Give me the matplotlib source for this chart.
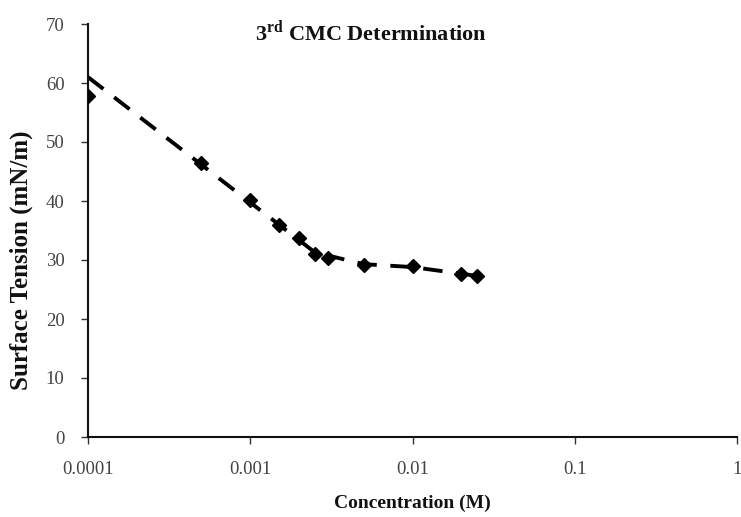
import matplotlib
matplotlib.use("Agg")
import matplotlib.pyplot as plt
from matplotlib.ticker import FixedLocator, FixedFormatter, NullLocator

plt.rcParams['font.family'] = ['Liberation Serif', 'DejaVu Serif']
plt.rcParams['mathtext.fontset'] = 'custom'
plt.rcParams['mathtext.rm'] = 'Liberation Serif'
plt.rcParams['mathtext.bf'] = 'Liberation Serif:bold'

# Data
conc = [0.0001, 0.0005, 0.001, 0.0015, 0.002, 0.0025, 0.003, 0.005, 0.01, 0.02, 0.025]
tension = [57.8, 46.4, 40.2, 35.9, 33.7, 31.0, 30.4, 29.1, 28.9, 27.7, 27.3]

# Dashed trend line
trend_x = [0.0001, 0.0025, 0.005, 0.01, 0.025]
trend_y = [61.0, 31.3, 29.3, 28.8, 27.3]

xticks = [0.0001, 0.001, 0.01, 0.1, 1]
xtick_labels = ["0.0001", "0.001", "0.01", "0.1", "1"]
yticks = [0, 10, 20, 30, 40, 50, 60, 70]

fig = plt.figure(figsize=(7.41, 5.17), dpi=100)
ax = fig.add_axes([88/741, 80/517, (737-88)/741, (437-24)/517])

ax.plot(trend_x, trend_y, color='black', linestyle=(0, (5, 3.5)), linewidth=2.8, zorder=2)
ax.plot(conc, tension, linestyle='none', marker='D', markersize=7, color='black', zorder=3)

ax.set_xscale('log')
ax.set_xlim(0.0001, 1)
ax.set_ylim(0, 70)
ax.xaxis.set_major_locator(FixedLocator(xticks))
ax.xaxis.set_major_formatter(FixedFormatter(xtick_labels))
ax.xaxis.set_minor_locator(NullLocator())
ax.set_yticks(yticks)

for s in ['top', 'right']:
    ax.spines[s].set_visible(False)
for s in ['left', 'bottom']:
    ax.spines[s].set_linewidth(1.5)
    ax.spines[s].set_color('#111111')

ax.tick_params(axis='both', direction='out', length=5, width=1, colors='#333333',
               labelsize=13.5, labelcolor='#444444')
ax.tick_params(axis='x', pad=12)
ax.tick_params(axis='y', pad=12)

ax.set_xlabel('Concentration (M)', fontsize=14, fontweight='bold', labelpad=12, color='#111111')
ax.set_ylabel('Surface Tension (mN/m)', fontsize=18, fontweight='bold', color='#111111')
ax.yaxis.set_label_coords((33-88)/649, (437-260)/413)

ax.text((371-88)/649, (437-33)/413, r'3$^{\mathbf{rd}}$ CMC Determination', transform=ax.transAxes,
        ha='center', va='center', fontsize=16, fontweight='bold', color='#111111')

fig.savefig('out.png', dpi=100)
